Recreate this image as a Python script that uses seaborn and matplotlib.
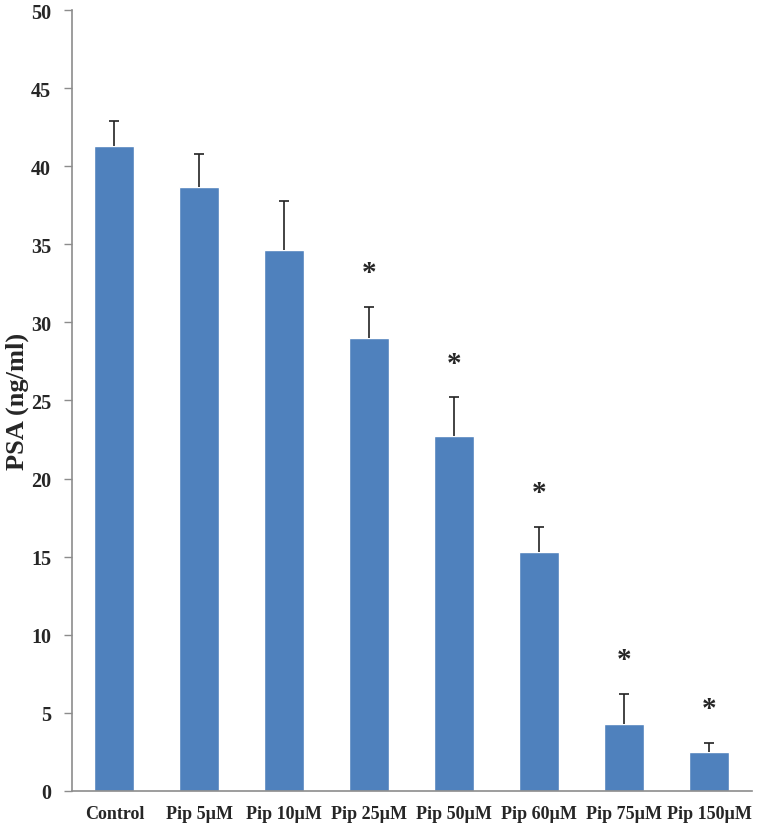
import numpy as np
import pandas as pd
import seaborn as sns
import matplotlib.pyplot as plt

groups = ['Control', 'Pip 5µM', 'Pip 10µM', 'Pip 25µM', 'Pip 50µM', 'Pip 60µM', 'Pip 75µM', 'Pip 150µM']
psa_mean = [41.3, 38.65, 34.65, 29.0, 22.7, 15.3, 4.3, 2.5]
psa_err = [1.6, 2.15, 3.1, 2.0, 2.5, 1.6, 1.9, 0.6]
significant = [False, False, False, True, True, True, True, True]

df = pd.DataFrame({'group': groups, 'psa': psa_mean})

sns.set_style('white')
plt.rcParams['font.family'] = ['Liberation Serif', 'DejaVu Serif']

fig = plt.figure(figsize=(7.6, 8.28), dpi=100)
ax = fig.add_axes([0.0947, 0.0435, 0.8943, 0.9432])

sns.barplot(x='group', y='psa', data=df, color='#4F81BD', saturation=1,
            width=0.47, ax=ax)

# upper error bars only
eb = ax.errorbar(np.arange(len(groups)), psa_mean, yerr=[np.zeros(len(psa_err)), psa_err],
                 fmt='none', ecolor='#222222', elinewidth=1.2, capsize=3.5, capthick=1.2)
eb[1][0].set_visible(False)

# significance stars
for i, (m, e, s) in enumerate(zip(psa_mean, psa_err, significant)):
    if s:
        ax.text(i, m + e + 2.2, '*', ha='center', va='center',
                fontsize=21, fontweight='bold')

ax.set_ylim(0, 50)
ax.set_xlim(-0.5, len(groups) - 0.5)
ax.set_yticks(np.arange(0, 51, 5))
ax.set_xlabel('')
ax.set_ylabel('PSA (ng/ml)', fontsize=19, fontweight='bold', labelpad=1)

for lab in ax.get_yticklabels():
    lab.set_fontweight('bold')
    lab.set_fontsize(14.5)
for lab in ax.get_xticklabels():
    lab.set_fontweight('bold')
    lab.set_fontsize(13)

sns.despine(ax=ax)
for side in ['left', 'bottom']:
    ax.spines[side].set_color('#8C8C8C')
    ax.spines[side].set_linewidth(1.2)
ax.tick_params(axis='y', direction='out', length=6, width=1, color='#8C8C8C', left=True, pad=9)
ax.tick_params(axis='x', length=0, pad=10)

fig.savefig('out.png', dpi=100, facecolor='white')
